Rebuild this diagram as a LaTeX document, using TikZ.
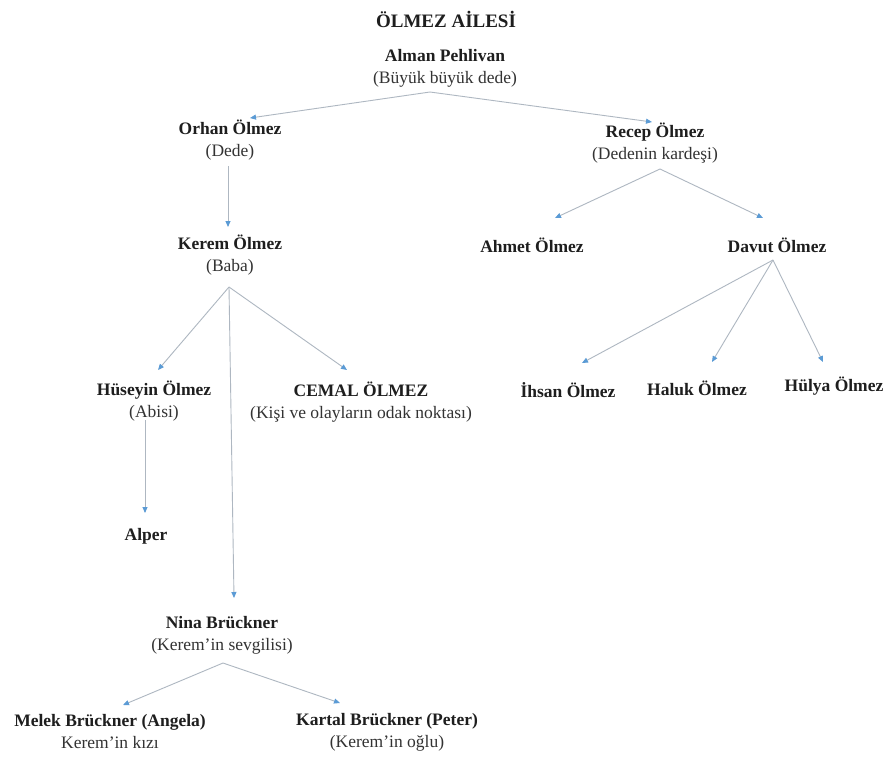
\documentclass[tikz,border=0pt]{standalone}
\usepackage{fontspec}
\setmainfont{LiberationSerif}[Extension=.ttf, UprightFont=*-Regular, BoldFont=*-Bold, ItalicFont=*-Italic, BoldItalicFont=*-BoldItalic]
\usepackage{xcolor}
\usepackage{tikz}
\usetikzlibrary{arrows.meta}
\definecolor{ink}{HTML}{1E1E1E}
\definecolor{soft}{HTML}{333333}
\definecolor{wire}{HTML}{AEB7C1}
\definecolor{tipblue}{HTML}{5B9BD5}
\tikzset{
  person/.style={align=center, inner sep=0pt, text=ink, font=\fontsize{17.5}{22}\selectfont},
  headline/.style={inner sep=0pt, text=ink, font=\fontsize{19}{22}\selectfont\bfseries},
  link/.style={draw=wire, line width=0.9pt, -{Triangle[length=6pt,width=5pt,color=tipblue]}},
}

\begin{document}
\begin{tikzpicture}[x=1pt,y=-1pt]
  \useasboundingbox[fill=white] (0,0) rectangle (884,756);
  \node[headline] (title) at (446,19) {ÖLMEZ AİLESİ};
  \node[person] (alman)   at (445,68.5) {\textbf{Alman Pehlivan}\\{\color{soft}(Büyük büyük dede)}};
  \node[person] (orhan)   at (230,140.5) {\textbf{Orhan Ölmez}\\{\color{soft}(Dede)}};
  \node[person] (recep)   at (655,143.5) {\textbf{Recep Ölmez}\\{\color{soft}(Dedenin kardeşi)}};
  \node[person] (kerem)   at (230,255) {\textbf{Kerem Ölmez}\\{\color{soft}(Baba)}};
  \node[person] (ahmet)   at (532,245) {\textbf{Ahmet Ölmez}};
  \node[person] (davut)   at (777,245) {\textbf{Davut Ölmez}};
  \node[person] (huseyin) at (154,401) {\textbf{Hüseyin Ölmez}\\{\color{soft}(Abisi)}};
  \node[person] (cemal)   at (361,402.5) {\textbf{CEMAL ÖLMEZ}\\{\color{soft}(Kişi ve olayların odak noktası)}};
  \node[person] (ihsan)   at (568,390) {\textbf{İhsan Ölmez}};
  \node[person] (haluk)   at (697,388) {\textbf{Haluk Ölmez}};
  \node[person] (hulya)   at (834,386) {\textbf{Hülya Ölmez}};
  \node[person] (alper)   at (146,536) {\textbf{Alper}};
  \node[person] (nina)    at (222,635) {\textbf{Nina Brückner}\\{\color{soft}(Kerem’in sevgilisi)}};
  \node[person] (melek)   at (110,732) {\textbf{Melek Brückner (Angela)}\\{\color{soft}Kerem’in kızı}};
  \node[person] (kartal)  at (387,732.5) {\textbf{Kartal Brückner (Peter)}\\{\color{soft}(Kerem’in oğlu)}};

  \draw[link] ([shift={(-15,23.5)}]alman.center) -- ([shift={(20,-22.5)}]orhan.center);
  \draw[link] ([shift={(-15,23.5)}]alman.center) -- ([shift={(-3,-21.5)}]recep.center);
  \draw[link] ([shift={(-2,25.5)}]orhan.center) -- ([shift={(-2,-28)}]kerem.center);
  \draw[link] ([shift={(5,25.5)}]recep.center) -- ([shift={(23,-27)}]ahmet.center);
  \draw[link] ([shift={(5,25.5)}]recep.center) -- ([shift={(-14,-27)}]davut.center);
  \draw[link] ([shift={(-1,32)}]kerem.center) -- ([shift={(4,-31)}]huseyin.center);
  \draw[link] ([shift={(-1,32)}]kerem.center) -- ([shift={(-14,-32.5)}]cemal.center);
  \draw[link] ([shift={(-1,32)}]kerem.center) -- ([shift={(12,-37)}]nina.center);
  \draw[link] ([shift={(-9,19)}]huseyin.center) -- ([shift={(-1,-23)}]alper.center);
  \draw[link] ([shift={(-4,15)}]davut.center) -- ([shift={(14,-27)}]ihsan.center);
  \draw[link] ([shift={(-4,15)}]davut.center) -- ([shift={(15,-26)}]haluk.center);
  \draw[link] ([shift={(-4,15)}]davut.center) -- ([shift={(-11,-24)}]hulya.center);
  \draw[link] ([shift={(1,28)}]nina.center) -- ([shift={(13,-27)}]melek.center);
  \draw[link] ([shift={(1,28)}]nina.center) -- ([shift={(-47,-29.5)}]kartal.center);
\end{tikzpicture}
\end{document}
